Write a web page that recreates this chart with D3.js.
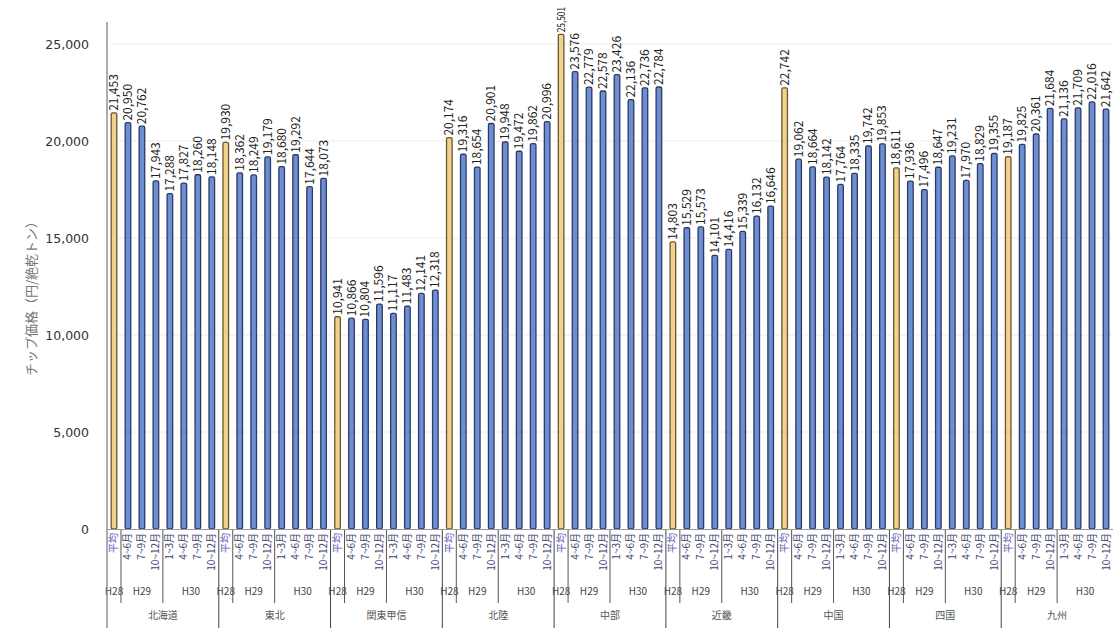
<!DOCTYPE html>
<html lang="ja">
<head>
    <meta charset="UTF-8">
    <title>チップ価格 地域別</title>
    <script src="https://d3js.org/d3.v7.min.js"></script>
    <style>
        body { margin: 0; background: #fff; }
        svg { display: block; font-family: "Noto Sans CJK JP", "DejaVu Sans", sans-serif; }
        .val { font-size: 12px; fill: #222; }
        .tick text { font-family: "DejaVu Sans", sans-serif; font-size: 12.5px; fill: #333; }
    </style>
</head>
<body>
<svg width="1113" height="628">
    <g id="gridlayer"></g>
    <g id="barlayer"></g>
    <g id="labellayer"></g>
    <g id="catlayer"></g>
</svg>
<script type="text/javascript">
    // regions and period labels
    const regions = ["北海道", "東北", "関東甲信", "北陸", "中部", "近畿", "中国", "四国", "九州"];
    const periods = ["平均", "4~6月", "7~9月", "10~12月", "1~3月", "4~6月", "7~9月", "10~12月"];
    const yearSpans = [["H28", 0, 1], ["H29", 1, 4], ["H30", 4, 8]];
    const yTicks = [0, 5000, 10000, 15000, 20000, 25000];

    // chip price per region (H28 average, then quarters of H29/H30)
    const hokkaido = [21453, 20950, 20762, 17943, 17288, 17827, 18260, 18148];
    const tohoku   = [19930, 18362, 18249, 19179, 18680, 19292, 17644, 18073];
    const kanto    = [10941, 10866, 10804, 11596, 11117, 11483, 12141, 12318];
    const hokuriku = [20174, 19316, 18654, 20901, 19948, 19472, 19862, 20996];
    const chubu    = [25501, 23576, 22779, 22578, 23426, 22136, 22736, 22784];
    const kinki    = [14803, 15529, 15573, 14101, 14416, 15339, 16132, 16646];
    const chugoku  = [22742, 19062, 18664, 18142, 17764, 18335, 19742, 19853];
    const shikoku  = [18611, 17936, 17496, 18647, 19231, 17970, 18829, 19355];
    const kyushu   = [19187, 19825, 20361, 21684, 21136, 21709, 22016, 21642];

    const values = [hokkaido, tohoku, kanto, hokuriku, chubu, kinki, chugoku, shikoku, kyushu];

    function draw() {
        const svg = d3.select("svg");
        const left = 107, right = 1113, axisTop = 22, base = 529;

        let y = d3.scaleLinear().domain([0, 25000]).range([base, 44]);
        let xRegion = d3.scaleBand().domain(regions).range([left, right]);
        let xPeriod = d3.scaleBand().domain(d3.range(periods.length))
            .range([0, xRegion.bandwidth()]).paddingInner(0.6).paddingOuter(0.3);

        let rows = [];
        regions.forEach((r, ri) => values[ri].forEach((v, pi) => rows.push({region: r, p: pi, value: v})));

        // gridlines
        d3.select("#gridlayer").selectAll("line")
            .data(yTicks.filter(d => d > 0))
            .join("line")
            .attr("x1", left + 4).attr("x2", right)
            .attr("y1", d => y(d)).attr("y2", d => y(d))
            .style("stroke", "#ececec");

        // y axis
        let yAxis = d3.axisLeft(y).tickValues(yTicks).tickFormat(d3.format(",")).tickSize(0).tickPadding(18);
        svg.append("g").attr("transform", `translate(${left},0)`).call(yAxis)
            .call(g => g.select(".domain").remove());

        svg.append("line")
            .attr("x1", left).attr("x2", left).attr("y1", axisTop).attr("y2", 628)
            .style("stroke", "#777").style("stroke-width", 1.2);
        svg.append("line")
            .attr("x1", left).attr("x2", right).attr("y1", base + 0.5).attr("y2", base + 0.5)
            .style("stroke", "#999");

        svg.append("text")
            .attr("transform", `translate(36,${(axisTop + base) / 2 + 20}) rotate(-90)`)
            .attr("text-anchor", "middle")
            .style("font-size", "13px").style("fill", "#777")
            .text("チップ価格（円/絶乾トン）");

        // bars
        d3.select("#barlayer").selectAll("rect")
            .data(rows)
            .join("rect")
            .attr("x", d => xRegion(d.region) + xPeriod(d.p))
            .attr("y", d => y(d.value))
            .attr("width", xPeriod.bandwidth())
            .attr("height", d => base - y(d.value))
            .attr("rx", 1.5)
            .style("fill", d => d.p === 0 ? "#efd28e" : "#6d8fd2")
            .style("stroke", d => d.p === 0 ? "#6e5530" : "#2c3a66")
            .style("stroke-width", 1.3);

        // value labels; the tallest one is squeezed so it stays on the page
        d3.select("#labellayer").selectAll("text")
            .data(rows)
            .join("text")
            .attr("class", "val")
            .attr("transform", d => `translate(${xRegion(d.region) + xPeriod(d.p) + xPeriod.bandwidth() / 2 + 4},${y(d.value) - 2}) rotate(-90)`)
            .style("font-size", d => y(d.value) < 45 ? "10.5px" : null)
            .text(d => d3.format(",")(d.value))
            .each(function (d) {
                let room = y(d.value) - 9;
                if (this.getComputedTextLength() > room) {
                    d3.select(this).attr("textLength", room).attr("lengthAdjust", "spacingAndGlyphs");
                }
            });

        // category labels
        let cat = d3.select("#catlayer");
        let step = xRegion.bandwidth() / periods.length;

        regions.forEach(r => {
            let gx = xRegion(r);
            let g = cat.append("g").attr("transform", `translate(${gx},0)`);

            g.selectAll("text.per")
                .data(periods)
                .join("text")
                .attr("class", "per")
                .attr("transform", (d, i) => `translate(${xPeriod(i) + xPeriod.bandwidth() / 2 + 3.5},533) rotate(-90)`)
                .attr("text-anchor", "end")
                .style("font-size", "10px")
                .style("fill", (d, i) => i === 0 ? "#5660b0" : "#3c4470")
                .text(d => d);

            g.selectAll("text.yr")
                .data(yearSpans)
                .join("text")
                .attr("class", "yr")
                .attr("x", d => (d[1] + d[2]) / 2 * step)
                .attr("y", 595)
                .attr("text-anchor", "middle")
                .style("font-size", "10px").style("fill", "#444")
                .text(d => d[0]);

            g.selectAll("line.sep")
                .data([1, 4])
                .join("line")
                .attr("class", "sep")
                .attr("x1", d => d * step).attr("x2", d => d * step)
                .attr("y1", base).attr("y2", 603)
                .style("stroke", "#555");

            g.append("text")
                .attr("x", xRegion.bandwidth() / 2).attr("y", 619)
                .attr("text-anchor", "middle")
                .style("font-size", "10px").style("fill", "#555")
                .text(r);
        });

        cat.selectAll("line.reg")
            .data(regions.slice(1))
            .join("line")
            .attr("class", "reg")
            .attr("x1", d => xRegion(d)).attr("x2", d => xRegion(d))
            .attr("y1", base).attr("y2", 628)
            .style("stroke", "#444");
    }
    draw();
</script>
</body>
</html>
